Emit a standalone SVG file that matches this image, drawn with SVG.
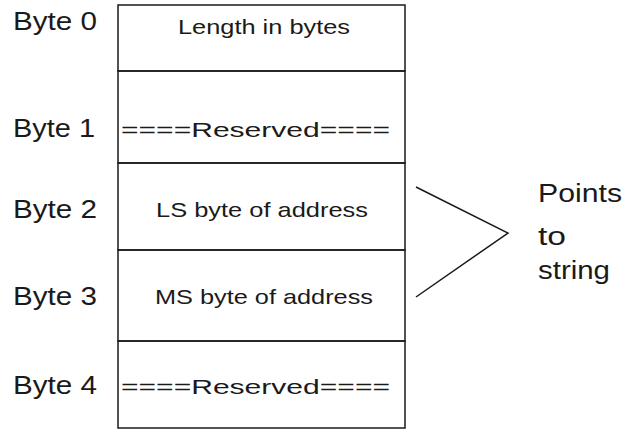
<svg xmlns="http://www.w3.org/2000/svg" width="633" height="430" viewBox="0 0 633 430">
<style>
.lbl{font-family:"Liberation Sans",Arial,sans-serif;font-size:26px;fill:#1a1a1a}
.cell{font-family:"Liberation Sans",Arial,sans-serif;font-size:21px;fill:#1a1a1a}
.ln{stroke:#1a1a1a;stroke-width:1.5;fill:none}
</style>
<rect width="633" height="430" fill="#fff"/>
<g id="byte0">
<text class="lbl" x="13" y="30" textLength="84" lengthAdjust="spacingAndGlyphs">Byte 0</text>
<rect class="ln" x="118" y="5" width="287" height="66"/>
<text class="cell" x="178" y="34" font-size="17" textLength="172" lengthAdjust="spacingAndGlyphs">Length in bytes</text>
</g>
<g id="byte1">
<text class="lbl" x="13" y="137" textLength="82" lengthAdjust="spacingAndGlyphs">Byte 1</text>
<rect class="ln" x="118" y="71" width="287" height="92"/>
<text class="cell" x="121" y="137" textLength="269" lengthAdjust="spacingAndGlyphs">====Reserved====</text>
</g>
<g id="byte2">
<text class="lbl" x="13" y="218" textLength="84" lengthAdjust="spacingAndGlyphs">Byte 2</text>
<rect class="ln" x="118" y="163" width="287" height="87"/>
<text class="cell" x="156" y="217" textLength="212" lengthAdjust="spacingAndGlyphs">LS byte of address</text>
</g>
<g id="byte3">
<text class="lbl" x="13" y="305" textLength="84" lengthAdjust="spacingAndGlyphs">Byte 3</text>
<rect class="ln" x="118" y="250" width="287" height="91"/>
<text class="cell" x="155" y="304" textLength="218" lengthAdjust="spacingAndGlyphs">MS byte of address</text>
</g>
<g id="byte4">
<text class="lbl" x="13" y="394" textLength="84" lengthAdjust="spacingAndGlyphs">Byte 4</text>
<rect class="ln" x="118" y="341" width="287" height="87"/>
<text class="cell" x="121" y="394" textLength="269" lengthAdjust="spacingAndGlyphs">====Reserved====</text>
</g>
<g id="connectors">
<polyline class="ln" points="416,187 508,233 416,297"/>
</g>
<g id="pointer-label">
<text class="lbl" x="538" y="202" textLength="84" lengthAdjust="spacingAndGlyphs">Points</text>
<text class="lbl" x="538" y="245" textLength="28" lengthAdjust="spacingAndGlyphs">to</text>
<text class="lbl" x="538" y="279" textLength="72" lengthAdjust="spacingAndGlyphs">string</text>
</g>
</svg>
